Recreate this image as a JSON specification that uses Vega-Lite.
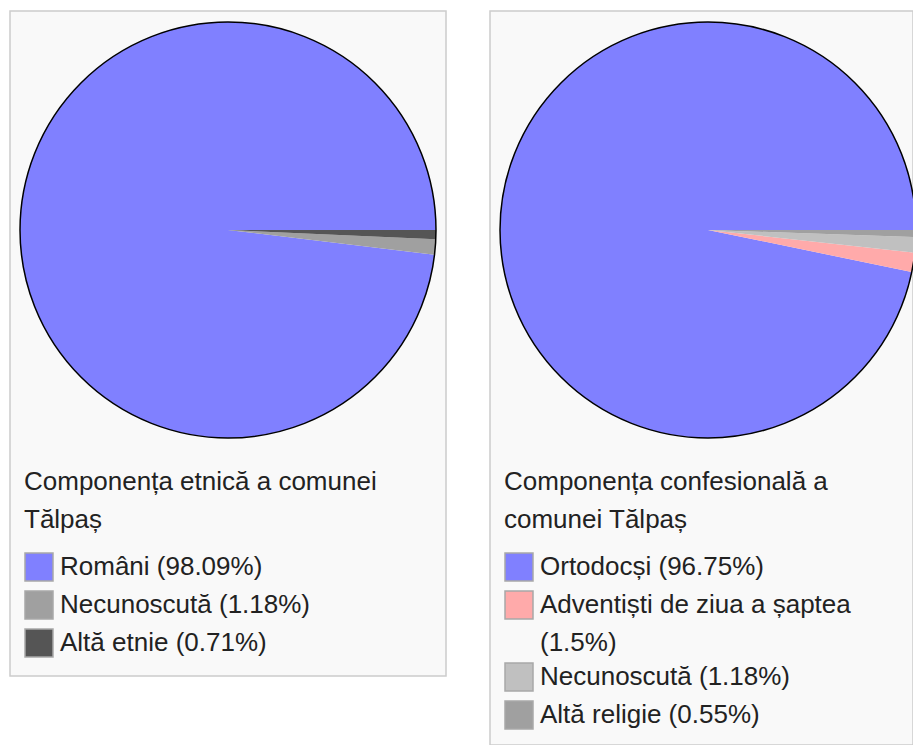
{
  "$schema": "https://vega.github.io/schema/vega-lite/v6.json",
  "padding": {"left": 9, "top": 10, "right": 0, "bottom": 0},
  "background": "white",
  "spacing": 42,
  "resolve": {"scale": {"color": "independent", "theta": "independent"}, "legend": {"color": "independent"}},
  "config": {
    "view": {"fill": "#f9f9f9", "stroke": "#cccccc", "strokeWidth": 1.5},
    "font": "Liberation Sans",
    "legend": {
      "titleFont": "Liberation Sans",
      "titleFontSize": 26,
      "titleFontWeight": "normal",
      "titleColor": "#222222",
      "titleLineHeight": 38,
      "titleLimit": 600,
      "titlePadding": 19,
      "labelFont": "Liberation Sans",
      "labelFontSize": 26,
      "labelColor": "#222222",
      "labelLimit": 600,
      "labelOffset": 6,
      "symbolType": "square",
      "symbolSize": 784,
      "symbolStrokeColor": "#a8a8a8",
      "symbolStrokeWidth": 1.5,
      "symbolOpacity": 1,
      "rowPadding": 4,
      "padding": 0
    }
  },
  "hconcat": [
    {
      "width": 436,
      "height": 665,
      "view": {"fill": "#f9f9f9", "stroke": "#cccccc", "strokeWidth": 1.5},
      "data": {"values": [
        {"etnie": "Români (98.09%)", "share": 98.09},
        {"etnie": "Necunoscută (1.18%)", "share": 1.18},
        {"etnie": "Altă etnie (0.71%)", "share": 0.71}
      ]},
      "layer": [
        {
          "mark": {"type": "arc", "radius": 208, "x": 218, "y": 219, "clip": true},
          "encoding": {
            "theta": {"field": "share", "type": "quantitative", "stack": true, "scale": {"range": [1.5708, 7.854]}},
            "order": {"field": "share", "sort": "ascending"},
            "color": {
              "field": "etnie", "type": "nominal",
              "scale": {"domain": ["Români (98.09%)", "Necunoscută (1.18%)", "Altă etnie (0.71%)"], "range": ["#8080ff", "#a0a0a0", "#555555"]},
              "legend": {"title": ["Componența etnică a comunei", "Tălpaș"], "orient": "none", "legendX": 14, "legendY": 458}
            }
          }
        },
        {
          "transform": [{"aggregate": [{"op": "sum", "field": "share", "as": "total"}]}],
          "mark": {"type": "arc", "radius": 208, "x": 218, "y": 219, "theta": 0, "theta2": 6.2832, "filled": false, "stroke": "#000000", "strokeWidth": 1.5, "clip": true},
          "encoding": {}
        }
      ]
    },
    {
      "width": 423,
      "height": 734,
      "view": {"fill": "#f9f9f9", "stroke": "#cccccc", "strokeWidth": 1.5},
      "data": {"values": [
        {"religie": "Ortodocși (96.75%)", "share": 96.75},
        {"religie": "Adventiști de ziua a șaptea (1.5%)", "share": 1.5},
        {"religie": "Necunoscută (1.18%)", "share": 1.18},
        {"religie": "Altă religie (0.55%)", "share": 0.55}
      ]},
      "layer": [
        {
          "mark": {"type": "arc", "radius": 208, "x": 218, "y": 219, "clip": true},
          "encoding": {
            "theta": {"field": "share", "type": "quantitative", "stack": true, "scale": {"range": [1.5708, 7.854]}},
            "order": {"field": "share", "sort": "ascending"},
            "color": {
              "field": "religie", "type": "nominal",
              "scale": {"domain": ["Ortodocși (96.75%)", "Adventiști de ziua a șaptea (1.5%)", "Necunoscută (1.18%)", "Altă religie (0.55%)"], "range": ["#8080ff", "#ffaaaa", "#c0c0c0", "#a0a0a0"]},
              "legend": {
                "title": ["Componența confesională a", "comunei Tălpaș"],
                "orient": "none", "legendX": 14, "legendY": 458,
                "labelExpr": "indexof(datum.label, 'șaptea') >= 0 ? ['Adventiști de ziua a șaptea', '(1.5%)'] : datum.label",
                "encode": {"labels": {"update": {"lineHeight": {"value": 38}}}}
              }
            }
          }
        },
        {
          "transform": [{"aggregate": [{"op": "sum", "field": "share", "as": "total"}]}],
          "mark": {"type": "arc", "radius": 208, "x": 218, "y": 219, "theta": 0, "theta2": 6.2832, "filled": false, "stroke": "#000000", "strokeWidth": 1.5, "clip": true},
          "encoding": {}
        }
      ]
    }
  ]
}
